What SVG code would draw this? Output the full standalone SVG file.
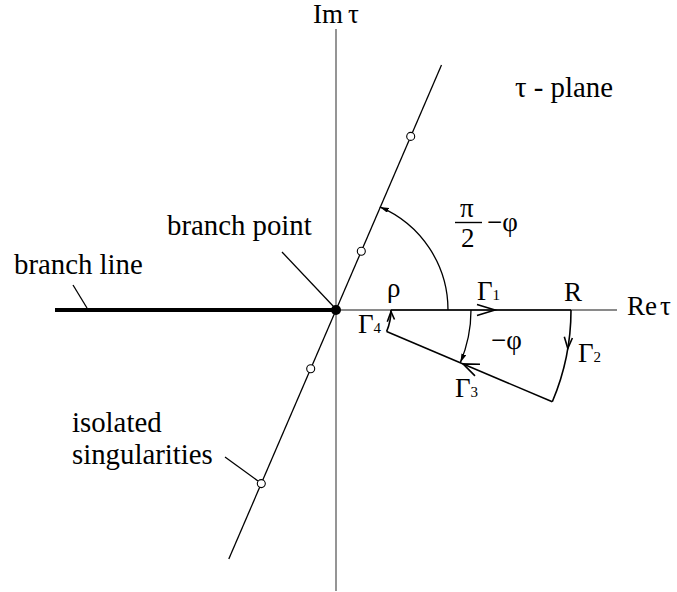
<svg xmlns="http://www.w3.org/2000/svg" width="677" height="592" viewBox="0 0 677 592">
<style>
text{font-family:'Liberation Serif','Times New Roman',Times,'DejaVu Serif',serif;fill:#000}
.lbl{font-size:28.8px}
.m{font-size:27px}
.sub{font-size:15px}
.axis{stroke:#8a8a8a;stroke-width:1.8;fill:none}
.ln{stroke:#000;stroke-width:1.3;fill:none}
.ct{stroke:#000;stroke-width:1.6;fill:none}
.sing{fill:#fff;stroke:#000;stroke-width:1.1}
</style>
<defs>
<marker id="ah" markerUnits="userSpaceOnUse" markerWidth="10" markerHeight="6" refX="9" refY="2.5" orient="auto">
<path d="M0,0 L9,2.5 L0,5 z" fill="#000"/>
</marker>
</defs>
<rect width="677" height="592" fill="#fff"/>
<g id="axes">
<line class="axis" x1="336" y1="29" x2="336" y2="591"/>
<line class="axis" x1="336" y1="310" x2="617" y2="310"/>
<text class="m" x="313" y="23">Im<tspan dx="5">τ</tspan></text>
<text class="m" x="627" y="315">Re<tspan dx="3">τ</tspan></text>
</g>
<text id="plane-label" class="lbl" x="515" y="97">τ - plane</text>
<g id="branch-line">
<line x1="55" y1="310" x2="336" y2="310" stroke="#000" stroke-width="4"/>
<line class="ln" x1="73" y1="285" x2="87" y2="308"/>
<text class="lbl" x="14" y="274">branch line</text>
</g>
<g id="singularity-line">
<line class="ln" x1="441.5" y1="65" x2="228.8" y2="559"/>
<circle class="sing" cx="410.7" cy="136.4" r="4"/>
<circle class="sing" cx="361.3" cy="251.2" r="4"/>
<circle class="sing" cx="310.7" cy="368.8" r="4"/>
<circle class="sing" cx="261.3" cy="483.6" r="4"/>
<line class="ln" x1="225" y1="457" x2="258" y2="481"/>
<text class="lbl" x="72" y="432">isolated</text>
<text class="lbl" x="72" y="464">singularities</text>
</g>
<g id="branch-point">
<line class="ln" x1="282" y1="252" x2="334" y2="307"/>
<circle cx="336" cy="310" r="5" fill="#000"/>
<text class="lbl" x="167" y="235">branch point</text>
</g>
<g id="angle-arcs">
<path class="ln" d="M448,310 A112,112 0 0 0 379.8,206.9" marker-end="url(#ah)"/>
<path class="ln" d="M471,310 A135,135 0 0 1 460.3,362.7" marker-end="url(#ah)"/>
<text class="m" x="460" y="217">π</text>
<line x1="455" y1="222.5" x2="482" y2="222.5" stroke="#000" stroke-width="1.4"/>
<text class="m" x="461" y="247">2</text>
<text class="m" x="487" y="231">−φ</text>
<text class="m" x="491" y="349">−φ</text>
</g>
<g id="contour">
<line class="ct" x1="391" y1="310" x2="571" y2="310"/>
<path class="ct" d="M571,310 A235,235 0 0 1 552.3,401.8"/>
<line class="ct" x1="552.3" y1="401.8" x2="386.6" y2="331.5"/>
<path class="ct" d="M386.6,331.5 A55,55 0 0 0 391,310"/>
<polyline class="ct" points="477,304.5 495,310 477,315.5"/>
<polyline class="ct" points="564.3,336.7 567.8,348.5 572.4,338"/>
<polyline class="ct" points="475,375.9 463,363.9 480,364.2"/>
<polyline class="ct" points="387.3,321.7 391,311.7 394.5,319.5"/>
<text class="m" x="387" y="297">ρ</text>
<text class="m" x="564" y="301">R</text>
<text class="m" x="477" y="300">Γ<tspan class="sub">1</tspan></text>
<text class="m" x="578" y="362">Γ<tspan class="sub">2</tspan></text>
<text class="m" x="455" y="397">Γ<tspan class="sub">3</tspan></text>
<text class="m" x="358" y="333">Γ<tspan class="sub">4</tspan></text>
</g>
</svg>
